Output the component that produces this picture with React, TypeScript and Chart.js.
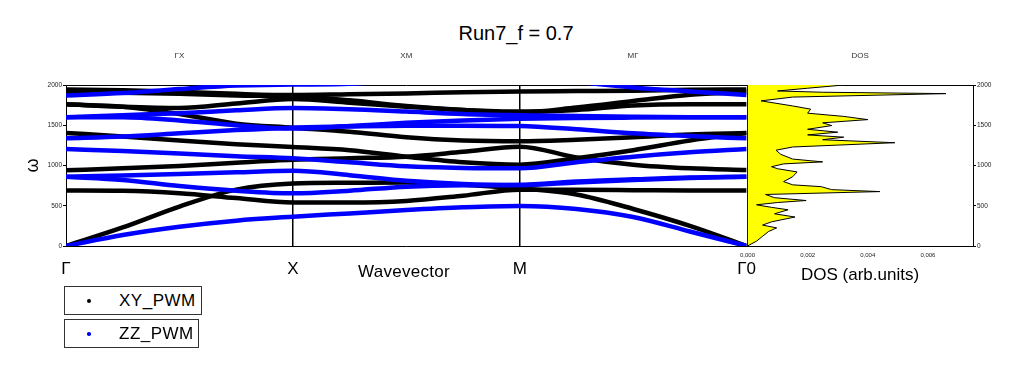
import React, { useEffect, useRef } from 'react';
import { Chart, registerables } from 'chart.js';

Chart.register(...registerables);

const FONT = '"Liberation Sans", Arial, Helvetica, sans-serif';

const chartTitle = 'Run7_f = 0.7';
const bandAxisTitle = 'Wavevector';
const dosAxisTitle = 'DOS (arb.units)';
const omegaTitle = 'ω';
const seriesNames = ['XY_PWM', 'ZZ_PWM'];

const kPath = [0, 0.25, 0.5, 0.75, 1, 1.25, 1.5, 1.75, 2, 2.25, 2.5, 2.75, 3];
const kTickValues = [0, 1, 2, 3];
const kTickLabels = ['Γ', 'X', 'M', 'Γ0'];
const segmentCenters = [0.5, 1.5, 2.5];
const segmentLabels = ['ΓX', 'XM', 'MΓ'];
const omegaTicks = [0, 500, 1000, 1500, 2000];
const dosTicks = [0, 0.002, 0.004, 0.006];
const dosTopLabel = 'DOS';

// XY_PWM bands (black), values at kPath positions
const xyBand1 = [0, 230, 490, 700, 775, 785, 790, 760, 715, 640, 460, 250, 0];
const xyBand2 = [689, 685, 655, 595, 540, 540, 560, 625, 700, 698, 694, 690, 689];
const xyBand3 = [940, 965, 995, 1035, 1070, 1090, 1110, 1170, 1233, 1100, 1010, 965, 944];
const xyBand4 = [1405, 1360, 1310, 1265, 1230, 1190, 1110, 1040, 1010, 1090, 1190, 1310, 1405];
const xyBand5 = [1760, 1730, 1640, 1520, 1470, 1420, 1350, 1310, 1300, 1320, 1350, 1385, 1405];
const xyBand6 = [1760, 1730, 1715, 1770, 1825, 1780, 1730, 1690, 1670, 1690, 1745, 1760, 1760];
const xyBand7 = [1945, 1935, 1915, 1890, 1875, 1885, 1895, 1910, 1920, 1925, 1930, 1940, 1945];
const xyBand8 = [1915, 1905, 1890, 1870, 1860, 1810, 1740, 1690, 1660, 1720, 1800, 1880, 1915];

// ZZ_PWM bands (blue)
const zzBand1 = [0, 137, 240, 315, 364, 405, 447, 480, 497, 460, 360, 180, 0];
const zzBand2 = [861, 820, 745, 687, 654, 687, 737, 755, 758, 800, 828, 852, 861];
const zzBand3 = [861, 875, 895, 915, 935, 880, 810, 770, 758, 790, 820, 845, 861];
const zzBand4 = [1205, 1180, 1150, 1115, 1089, 1040, 990, 970, 965, 1040, 1110, 1165, 1205];
const zzBand5 = [1337, 1360, 1400, 1440, 1470, 1485, 1495, 1495, 1490, 1450, 1400, 1365, 1337];
const zzBand6 = [1600, 1600, 1560, 1500, 1460, 1490, 1530, 1560, 1580, 1590, 1595, 1598, 1600];
const zzBand7 = [1600, 1625, 1650, 1685, 1714, 1700, 1670, 1640, 1625, 1615, 1605, 1600, 1600];
const zzBand8 = [1870, 1900, 1950, 1995, 2005, 2015, 2060, 2100, 2120, 2040, 1970, 1920, 1875];

const xyBands = [xyBand1, xyBand2, xyBand3, xyBand4, xyBand5, xyBand6, xyBand7, xyBand8];
const zzBands = [zzBand1, zzBand2, zzBand3, zzBand4, zzBand5, zzBand6, zzBand7, zzBand8];

// DOS
const dosOmega = [0, 60, 120, 180, 225, 260, 300, 360, 400, 450, 480, 512, 540, 565, 600, 640, 676, 700, 737, 760, 800, 860, 920, 960, 985, 1020, 1045, 1080, 1140, 1190, 1230, 1283, 1320, 1352, 1380, 1414, 1450, 1496, 1530, 1570, 1610, 1650, 1700, 1740, 1803, 1850, 1893, 1910, 1926, 1960, 2000];
const dosValues = [0, 0.0003, 0.0005, 0.0007, 0.00097, 0.0005, 0.0008, 0.00158, 0.0009, 0.00135, 0.0008, 0.0003, 0.001, 0.00195, 0.0009, 0.0006, 0.0044, 0.0028, 0.00245, 0.0015, 0.0012, 0.0015, 0.00165, 0.001, 0.0008, 0.0012, 0.0025, 0.0015, 0.0011, 0.00095, 0.0015, 0.0049, 0.0025, 0.0032, 0.002, 0.003, 0.002, 0.0028, 0.0025, 0.004, 0.0032, 0.002, 0.0021, 0.0015, 0.00045, 0.0015, 0.0066, 0.0025, 0.001, 0.002, 0.0032];

const XY_COLOR = '#000000';
const ZZ_COLOR = '#0000ff';

function BandChart() {
  const ref = useRef<HTMLCanvasElement>(null);
  useEffect(() => {
    const el = ref.current;
    if (!el) return;
    const mk = (vals: number[], color: string, order: number) => ({
      data: vals.map((v, i) => ({ x: kPath[i], y: v })),
      borderColor: color,
      backgroundColor: color,
      borderWidth: 4.5,
      pointRadius: 0,
      cubicInterpolationMode: 'monotone' as const,
      fill: false,
      order,
      xAxisID: 'x',
      yAxisID: 'y',
    });
    const chart = new Chart(el, {
      type: 'line',
      data: {
        datasets: [
          ...xyBands.map((b) => mk(b, XY_COLOR, 2)),
          ...zzBands.map((b) => mk(b, ZZ_COLOR, 1)),
        ],
      },
      options: {
        animation: false,
        responsive: false,
        events: [],
        layout: { padding: { left: 0, right: 0, top: 0, bottom: 0 } },
        plugins: { legend: { display: false }, tooltip: { enabled: false }, title: { display: false } },
        scales: {
          x: {
            type: 'linear',
            position: 'bottom',
            min: 0,
            max: 3,
            afterBuildTicks: (s: any) => {
              s.ticks = kTickValues.map((v) => ({ value: v }));
            },
            afterFit: (s: any) => {
              s.height = 44;
            },
            ticks: {
              callback: (v: any) => kTickLabels[kTickValues.indexOf(Number(v))] ?? '',
              font: { family: FONT, size: 17 },
              color: '#000',
              padding: 13,
              maxRotation: 0,
              autoSkip: false,
            },
            grid: {
              color: (c: any) => (c.tick && (c.tick.value === 1 || c.tick.value === 2) ? '#000' : 'rgba(0,0,0,0)'),
              lineWidth: 1.5,
              drawTicks: false,
            },
            border: { display: true, color: '#000', width: 1 },
          },
          xTop: {
            type: 'linear',
            position: 'top',
            min: 0,
            max: 3,
            afterBuildTicks: (s: any) => {
              s.ticks = segmentCenters.map((v) => ({ value: v }));
            },
            afterFit: (s: any) => {
              s.height = 45;
            },
            ticks: {
              callback: (v: any) => segmentLabels[segmentCenters.indexOf(Number(v))] ?? '',
              font: { family: FONT, size: 8 },
              color: '#333',
              padding: 24,
              maxRotation: 0,
              autoSkip: false,
            },
            grid: { display: false, drawTicks: false },
            border: { display: true, color: '#000', width: 1 },
          },
          y: {
            type: 'linear',
            position: 'left',
            min: 0,
            max: 2000,
            afterBuildTicks: (s: any) => {
              s.ticks = omegaTicks.map((v) => ({ value: v }));
            },
            afterFit: (s: any) => {
              s.width = 66;
            },
            ticks: {
              callback: (v: any) => String(v),
              font: { family: FONT, size: 6.5 },
              color: '#222',
              padding: 1,
            },
            grid: { drawOnChartArea: false, tickLength: 3, color: '#000' },
            border: { display: true, color: '#000', width: 1 },
            title: {
              display: true,
              text: omegaTitle,
              font: { family: FONT, size: 18 },
              color: '#000',
              padding: { top: 22, bottom: 0 },
            },
          },
        },
      },
    } as any);
    return () => chart.destroy();
  }, []);
  return (
    <canvas
      ref={ref}
      width={769}
      height={250}
      style={{ position: 'absolute', left: 0, top: 40, width: 769, height: 250 }}
    />
  );
}

function DosChart() {
  const ref = useRef<HTMLCanvasElement>(null);
  useEffect(() => {
    const el = ref.current;
    if (!el) return;
    const chart = new Chart(el, {
      type: 'line',
      data: {
        datasets: [
          {
            data: dosOmega.map((w, i) => ({ x: dosValues[i], y: w })),
            borderColor: '#000',
            borderWidth: 1,
            backgroundColor: '#ffff00',
            fill: 'origin',
            pointRadius: 0,
            tension: 0,
            xAxisID: 'x',
            yAxisID: 'yR',
          },
        ],
      },
      options: {
        indexAxis: 'y',
        animation: false,
        responsive: false,
        events: [],
        layout: { padding: { left: 0, right: 0, top: 0, bottom: 0 } },
        plugins: { legend: { display: false }, tooltip: { enabled: false }, title: { display: false } },
        scales: {
          x: {
            type: 'linear',
            position: 'bottom',
            min: 0,
            max: 0.0075,
            afterBuildTicks: (s: any) => {
              s.ticks = dosTicks.map((v) => ({ value: v }));
            },
            afterFit: (s: any) => {
              s.height = 44;
            },
            ticks: {
              callback: (v: any) => Number(v).toFixed(3).replace('.', ','),
              font: { family: FONT, size: 6 },
              color: '#222',
              padding: 6,
              maxRotation: 0,
              autoSkip: false,
            },
            grid: { drawOnChartArea: false, drawTicks: false },
            border: { display: true, color: '#000', width: 1 },
          },
          xT: {
            type: 'linear',
            position: 'top',
            min: 0,
            max: 0.0075,
            afterBuildTicks: (s: any) => {
              s.ticks = [{ value: 0.00375 }];
            },
            afterFit: (s: any) => {
              s.height = 45;
            },
            ticks: {
              callback: () => dosTopLabel,
              font: { family: FONT, size: 8 },
              color: '#333',
              padding: 24,
              maxRotation: 0,
              autoSkip: false,
            },
            grid: { display: false, drawTicks: false },
            border: { display: true, color: '#000', width: 1 },
          },
          yR: {
            type: 'linear',
            position: 'right',
            min: 0,
            max: 2000,
            afterBuildTicks: (s: any) => {
              s.ticks = omegaTicks.map((v) => ({ value: v }));
            },
            afterFit: (s: any) => {
              s.width = 51;
            },
            ticks: {
              callback: (v: any) => String(v),
              font: { family: FONT, size: 6.5 },
              color: '#222',
              padding: 1,
            },
            grid: { drawOnChartArea: false, tickLength: 3, color: '#000' },
            border: { display: true, color: '#000', width: 1 },
          },
          yL: {
            type: 'linear',
            position: 'left',
            min: 0,
            max: 2000,
            afterFit: (s: any) => {
              s.width = 7;
            },
            ticks: { display: false },
            grid: { display: false, drawTicks: false },
            border: { display: true, color: '#000', width: 1 },
          },
        },
      },
    } as any);
    return () => chart.destroy();
  }, []);
  return (
    <canvas
      ref={ref}
      width={290}
      height={250}
      style={{ position: 'absolute', left: 734, top: 40, width: 290, height: 250 }}
    />
  );
}

const textStyle: React.CSSProperties = {
  position: 'absolute',
  fontFamily: FONT,
  color: '#000',
  whiteSpace: 'nowrap',
};

function LegendBox(props: { top: number; width: number; color: string; dot: number; label: string }) {
  return (
    <div
      style={{
        position: 'absolute',
        left: 64,
        top: props.top,
        width: props.width,
        height: 29,
        boxSizing: 'border-box',
        border: '1px solid #333',
        background: '#fff',
      }}
    >
      <div
        style={{
          position: 'absolute',
          left: 24 - props.dot / 2,
          top: 14 - props.dot / 2,
          width: props.dot,
          height: props.dot,
          borderRadius: '50%',
          background: props.color,
        }}
      />
      <div
        style={{
          ...textStyle,
          left: 54,
          top: 5,
          fontSize: 17,
          lineHeight: '17px',
          letterSpacing: 0.5,
        }}
      >
        {props.label}
      </div>
    </div>
  );
}

export default function App() {
  return (
    <div
      style={{
        position: 'absolute',
        left: 0,
        top: 0,
        width: 1024,
        height: 375,
        background: '#fff',
        overflow: 'hidden',
        fontFamily: FONT,
      }}
    >
      <div style={{ ...textStyle, left: 366, width: 300, top: 23, textAlign: 'center', fontSize: 20, lineHeight: '20px' }}>
        {chartTitle}
      </div>
      <BandChart />
      <DosChart />
      <div style={{ ...textStyle, left: 304, width: 200, top: 262.5, textAlign: 'center', fontSize: 17, lineHeight: '17px', letterSpacing: 0.3 }}>
        {bandAxisTitle}
      </div>
      <div style={{ ...textStyle, left: 760, width: 200, top: 266, textAlign: 'center', fontSize: 17, lineHeight: '17px' }}>
        {dosAxisTitle}
      </div>
      <LegendBox top={286} width={138} color={XY_COLOR} dot={4} label={seriesNames[0]} />
      <LegendBox top={319} width={135} color={ZZ_COLOR} dot={3.5} label={seriesNames[1]} />
    </div>
  );
}
